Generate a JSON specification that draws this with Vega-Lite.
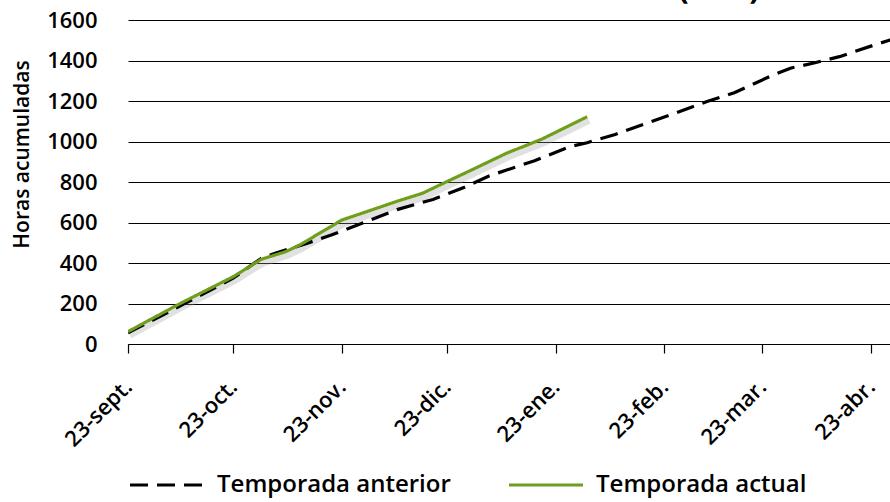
{
  "$schema": "https://vega.github.io/schema/vega-lite/v6.json",
  "width": 762,
  "height": 324,
  "autosize": {"type": "none"},
  "padding": {"left": 128, "top": 20, "right": 0, "bottom": 158},
  "background": "white",
  "title": {
    "text": "Horas Enfriamiento Productivas (HEP)",
    "fontSize": 31,
    "font": "Open Sans",
    "fontWeight": "bold",
    "color": "black",
    "anchor": "middle",
    "baseline": "bottom",
    "offset": 0,
    "dx": -41,
    "dy": 28
  },
  "config": {
    "view": {"stroke": null},
    "font": "Open Sans"
  },
  "data": {
    "values": [
      {"serie": "Temporada anterior", "fecha": "2012-09-23T00:00:00", "horas": 55},
      {"serie": "Temporada anterior", "fecha": "2012-10-09T00:00:00", "horas": 198},
      {"serie": "Temporada anterior", "fecha": "2012-10-23T00:00:00", "horas": 325},
      {"serie": "Temporada anterior", "fecha": "2012-10-31T00:00:00", "horas": 423},
      {"serie": "Temporada anterior", "fecha": "2012-11-04T00:00:00", "horas": 448},
      {"serie": "Temporada anterior", "fecha": "2012-11-13T00:00:00", "horas": 497},
      {"serie": "Temporada anterior", "fecha": "2012-11-20T00:00:00", "horas": 538},
      {"serie": "Temporada anterior", "fecha": "2012-11-30T00:00:00", "horas": 604},
      {"serie": "Temporada anterior", "fecha": "2012-12-09T00:00:00", "horas": 665},
      {"serie": "Temporada anterior", "fecha": "2012-12-19T00:00:00", "horas": 714},
      {"serie": "Temporada anterior", "fecha": "2012-12-28T00:00:00", "horas": 774},
      {"serie": "Temporada anterior", "fecha": "2013-01-04T00:00:00", "horas": 830},
      {"serie": "Temporada anterior", "fecha": "2013-01-17T00:00:00", "horas": 905},
      {"serie": "Temporada anterior", "fecha": "2013-01-27T00:00:00", "horas": 974},
      {"serie": "Temporada anterior", "fecha": "2013-02-01T00:00:00", "horas": 994},
      {"serie": "Temporada anterior", "fecha": "2013-02-09T00:00:00", "horas": 1035},
      {"serie": "Temporada anterior", "fecha": "2013-02-26T00:00:00", "horas": 1139},
      {"serie": "Temporada anterior", "fecha": "2013-03-07T00:00:00", "horas": 1196},
      {"serie": "Temporada anterior", "fecha": "2013-03-15T00:00:00", "horas": 1241},
      {"serie": "Temporada anterior", "fecha": "2013-03-26T00:00:00", "horas": 1328},
      {"serie": "Temporada anterior", "fecha": "2013-03-31T00:00:00", "horas": 1362},
      {"serie": "Temporada anterior", "fecha": "2013-04-07T00:00:00", "horas": 1389},
      {"serie": "Temporada anterior", "fecha": "2013-04-14T00:00:00", "horas": 1419},
      {"serie": "Temporada anterior", "fecha": "2013-04-24T00:00:00", "horas": 1477},
      {"serie": "Temporada anterior", "fecha": "2013-04-28T00:00:00", "horas": 1499},
      {"serie": "Temporada anterior", "fecha": "2013-05-02T00:00:00", "horas": 1520},
      {"serie": "Temporada actual", "fecha": "2012-09-23T00:00:00", "horas": 61},
      {"serie": "Temporada actual", "fecha": "2012-10-08T00:00:00", "horas": 201},
      {"serie": "Temporada actual", "fecha": "2012-10-23T00:00:00", "horas": 332},
      {"serie": "Temporada actual", "fecha": "2012-10-31T00:00:00", "horas": 418},
      {"serie": "Temporada actual", "fecha": "2012-11-07T00:00:00", "horas": 456},
      {"serie": "Temporada actual", "fecha": "2012-11-11T00:00:00", "horas": 489},
      {"serie": "Temporada actual", "fecha": "2012-11-15T00:00:00", "horas": 530},
      {"serie": "Temporada actual", "fecha": "2012-11-23T00:00:00", "horas": 612},
      {"serie": "Temporada actual", "fecha": "2012-11-30T00:00:00", "horas": 653},
      {"serie": "Temporada actual", "fecha": "2012-12-09T00:00:00", "horas": 706},
      {"serie": "Temporada actual", "fecha": "2012-12-16T00:00:00", "horas": 744},
      {"serie": "Temporada actual", "fecha": "2012-12-23T00:00:00", "horas": 802},
      {"serie": "Temporada actual", "fecha": "2012-12-30T00:00:00", "horas": 859},
      {"serie": "Temporada actual", "fecha": "2013-01-09T00:00:00", "horas": 942},
      {"serie": "Temporada actual", "fecha": "2013-01-19T00:00:00", "horas": 1011},
      {"serie": "Temporada actual", "fecha": "2013-02-01T00:00:00", "horas": 1122}
    ]
  },
  "encoding": {
    "x": {
      "field": "fecha",
      "type": "temporal",
      "scale": {
        "domain": [
          {"year": 2012, "month": 9, "date": 23},
          {"year": 2013, "month": 4, "date": 28, "hours": 10}
        ]
      },
      "axis": {
        "title": null,
        "values": [
          {"year": 2012, "month": 9, "date": 23},
          {"year": 2012, "month": 10, "date": 23},
          {"year": 2012, "month": 11, "date": 23},
          {"year": 2012, "month": 12, "date": 23},
          {"year": 2013, "month": 1, "date": 23},
          {"year": 2013, "month": 2, "date": 23},
          {"year": 2013, "month": 3, "date": 23},
          {"year": 2013, "month": 4, "date": 23}
        ],
        "labelExpr": "'23-' + ['ene.','feb.','mar.','abr.','may.','jun.','jul.','ago.','sept.','oct.','nov.','dic.'][month(datum.value)]",
        "labelAngle": -45,
        "labelAlign": "right",
        "labelBaseline": "middle",
        "labelFontSize": 22,
        "labelFontWeight": 600,
        "labelColor": "black",
        "labelPadding": 30,
        "labelDx": 4,
        "labelOverlap": false,
        "labelBound": false,
        "labelFlush": false,
        "domainColor": "black",
        "domainWidth": 1.2,
        "tickColor": "black",
        "tickSize": 9,
        "tickWidth": 1.2,
        "grid": false
      }
    },
    "y": {
      "field": "horas",
      "type": "quantitative",
      "scale": {"domain": [0, 1600], "nice": false},
      "axis": {
        "title": "Horas acumuladas",
        "titleFontSize": 21,
        "titleFontWeight": 600,
        "titleColor": "black",
        "titleAngle": -90,
        "titleAlign": "center",
        "titleBaseline": "middle",
        "titleX": -106,
        "titleY": 134,
        "values": [0, 200, 400, 600, 800, 1000, 1200, 1400, 1600],
        "format": "d",
        "labelFontSize": 22,
        "labelFontWeight": 600,
        "labelColor": "black",
        "labelPadding": 31,
        "ticks": false,
        "domain": false,
        "grid": true,
        "gridColor": "black",
        "gridWidth": 1.2,
        "gridOpacity": 1
      }
    }
  },
  "layer": [
    {
      "transform": [{"filter": "datum.serie === 'Temporada actual'"}],
      "mark": {"type": "line", "clip": true, "color": "#9a9a9a", "opacity": 0.3, "strokeWidth": 6, "xOffset": 2, "yOffset": 4},
      "encoding": {"detail": {"field": "serie"}}
    },
    {
      "mark": {"type": "line", "clip": true, "strokeWidth": 3.2},
      "encoding": {
        "color": {
          "field": "serie",
          "type": "nominal",
          "scale": {"domain": ["Temporada anterior", "Temporada actual"], "range": ["#000000", "#6E9E1C"]},
          "legend": {
            "title": null,
            "orient": "none",
            "direction": "horizontal",
            "legendX": 0,
            "legendY": 426,
            "symbolType": "stroke",
            "symbolSize": 5476,
            "symbolStrokeWidth": 3.2,
            "labelFontSize": 24,
            "labelFontWeight": 600,
            "labelLimit": 400,
            "labelColor": "black",
            "labelOffset": 11,
            "columnPadding": 51,
            "padding": 0
          }
        },
        "strokeDash": {
          "field": "serie",
          "type": "nominal",
          "scale": {"domain": ["Temporada anterior", "Temporada actual"], "range": [[18, 9], [1, 0]]},
          "legend": {
            "title": null,
            "orient": "none",
            "direction": "horizontal",
            "legendX": 0,
            "legendY": 426,
            "symbolType": "stroke",
            "symbolSize": 5476,
            "symbolStrokeWidth": 3.2,
            "labelFontSize": 24,
            "labelFontWeight": 600,
            "labelLimit": 400,
            "labelColor": "black",
            "labelOffset": 11,
            "columnPadding": 51,
            "padding": 0
          }
        }
      }
    }
  ]
}
